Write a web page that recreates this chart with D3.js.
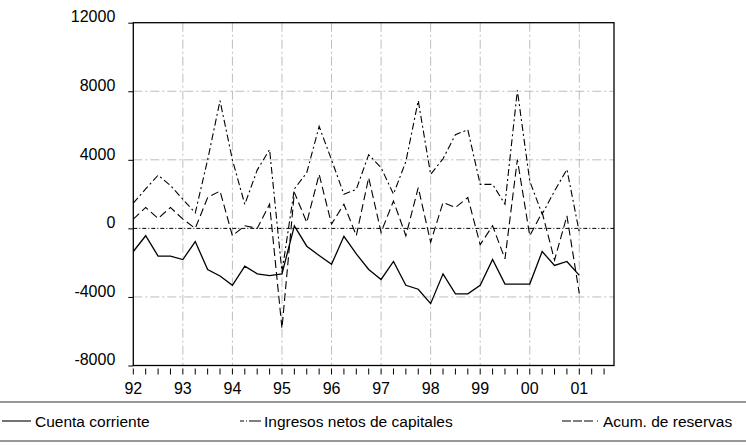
<!DOCTYPE html>
<html>
<head>
<meta charset="utf-8">
<script src="https://cdn.jsdelivr.net/npm/d3@7"></script>
<style>
  body { margin: 0; background: #fff; }
  svg { display: block; }
  text { font-family: "Liberation Sans", Arial, Helvetica, sans-serif; fill: #000; }
</style>
</head>
<body>
<svg id="chart" width="746" height="445"></svg>
<script>
// Quarterly observations, 1992Q1 – 2001Q1
const quarters = [
  "1992Q1","1992Q2","1992Q3","1992Q4","1993Q1","1993Q2","1993Q3","1993Q4",
  "1994Q1","1994Q2","1994Q3","1994Q4","1995Q1","1995Q2","1995Q3","1995Q4",
  "1996Q1","1996Q2","1996Q3","1996Q4","1997Q1","1997Q2","1997Q3","1997Q4",
  "1998Q1","1998Q2","1998Q3","1998Q4","1999Q1","1999Q2","1999Q3","1999Q4",
  "2000Q1","2000Q2","2000Q3","2000Q4","2001Q1"
];

const cuentaCorriente = [
  -1350, -430, -1620, -1620, -1820, -770, -2400, -2780,
  -3320, -2200, -2650, -2760, -2650, 150, -1040, -1580,
  -2100, -460, -1490, -2400, -2980, -1930, -3320, -3550,
  -4390, -2650, -3820, -3820, -3320, -1820, -3250, -3250,
  -3250, -1350, -2160, -1930, -2740
];

const ingresosCapitales = [
  1470, 2300, 3100, 2500, 1700, 900, 4000, 7450,
  4000, 1400, 3400, 4600, -2550, 2300, 3250, 5950,
  4000, 1990, 2280, 4300, 3540, 2000, 3900, 7450,
  3150, 4060, 5470, 5760, 2570, 2570, 1410, 8050,
  2760, 830, 2180, 3440, -230
];

const acumReservas = [
  540, 1220, 580, 1220, 540, 0, 1800, 2180,
  -430, 150, 0, 1410, -5830, 2100, 350, 3150,
  250, 1410, -430, 2960, -230, 1600, -430, 2380,
  -810, 1510, 1220, 1800, -950, 150, -1780, 4020,
  -430, 930, -1850, 730, -3810
];

const yearLabels = ["92","93","94","95","96","97","98","99","00","01"];
const yTickValues = [-8000, -4000, 0, 4000, 8000, 12000];

const seriesNames = ["Cuenta corriente", "Ingresos netos de capitales", "Acum. de reservas"];

// ---- layout ----
const svg = d3.select("#chart");
const plot = { left: 133.3, right: 614, top: 22.7, bottom: 365.5 };

const x = d3.scaleLinear().domain([0, 38.8]).range([plot.left, plot.right]);
const y = d3.scaleLinear().domain([-8000, 12000]).range([plot.bottom, plot.top]);

const gridColor = "#bdbdbd";

// horizontal grid lines (zero line drawn separately in black)
svg.append("g").selectAll("line")
  .data(yTickValues.filter(v => v !== 0 && v !== -8000 && v !== 12000))
  .join("line")
  .attr("x1", plot.left).attr("x2", plot.right)
  .attr("y1", d => y(d)).attr("y2", d => y(d))
  .attr("stroke", gridColor).attr("stroke-width", 1)
  .attr("stroke-dasharray", "9,3,2,3");

// vertical grid lines at the start of each year
svg.append("g").selectAll("line")
  .data(yearLabels.slice(1).map((_, i) => (i + 1) * 4))
  .join("line")
  .attr("x1", d => x(d)).attr("x2", d => x(d))
  .attr("y1", plot.top).attr("y2", plot.bottom)
  .attr("stroke", gridColor).attr("stroke-width", 1)
  .attr("stroke-dasharray", "9,3,2,3");

// zero line
svg.append("line")
  .attr("x1", plot.left).attr("x2", plot.right)
  .attr("y1", y(0)).attr("y2", y(0))
  .attr("stroke", "#000").attr("stroke-width", 1)
  .attr("stroke-dasharray", "4,2,1,2");

// series
const lineGen = d3.line().x((d, i) => x(i)).y(d => y(d));
const series = [
  { values: cuentaCorriente, dash: null, width: 1.3 },
  { values: ingresosCapitales, dash: "7,3,2,3", width: 1.1 },
  { values: acumReservas, dash: "8,4", width: 1.1 }
];
svg.append("g").selectAll("path")
  .data(series)
  .join("path")
  .attr("d", d => lineGen(d.values))
  .attr("fill", "none")
  .attr("stroke", "#000")
  .attr("stroke-width", d => d.width)
  .attr("stroke-linejoin", "miter")
  .attr("stroke-dasharray", d => d.dash);

// frame
svg.append("rect")
  .attr("x", plot.left).attr("y", plot.top)
  .attr("width", plot.right - plot.left).attr("height", plot.bottom - plot.top)
  .attr("fill", "none").attr("stroke", "#000").attr("stroke-width", 1.3);

// left axis: ticks and labels (plain hyphen for negatives)
const yAxis = d3.axisLeft(y).tickValues(yTickValues).tickSize(5).tickPadding(18)
  .tickFormat(d => String(d));
const gy = svg.append("g").attr("transform", `translate(${plot.left},0)`).call(yAxis);
gy.select(".domain").remove();
gy.selectAll(".tick line").attr("stroke", "#000");
gy.selectAll(".tick text")
  .attr("font-size", 16)
  .attr("font-family", "'Liberation Sans', Arial, sans-serif")
  .attr("x", -18).attr("dy", "-0.05em");

// bottom axis: quarterly ticks and year labels
const qTicks = d3.range(0, 39);
svg.append("g").selectAll("line")
  .data(qTicks)
  .join("line")
  .attr("x1", d => x(d)).attr("x2", d => x(d))
  .attr("y1", plot.bottom + 3).attr("y2", plot.bottom + 9)
  .attr("stroke", "#000").attr("stroke-width", 1);

svg.append("g").selectAll("text")
  .data(yearLabels)
  .join("text")
  .attr("x", (d, i) => x(i * 4))
  .attr("y", plot.bottom + 28)
  .attr("text-anchor", "middle")
  .attr("font-size", 16)
  .text(d => d);

// legend
const legendY = 421;
svg.append("line").attr("x1", 0).attr("x2", 746).attr("y1", 402).attr("y2", 402)
  .attr("stroke", "#333").attr("stroke-width", 1.2);
svg.append("line").attr("x1", 0).attr("x2", 746).attr("y1", 441).attr("y2", 441)
  .attr("stroke", "#333").attr("stroke-width", 1.2);

const legendItems = [
  { name: seriesNames[0], x0: 2, x1: 31, tx: 35, dash: null },
  { name: seriesNames[1], x0: 240, x1: 261, tx: 264, dash: "4,2,1,2,15,3" },
  { name: seriesNames[2], x0: 562, x1: 599, tx: 603, dash: "9,2,9,2,9,4,1,4" }
];
const lg = svg.append("g").selectAll("g").data(legendItems).join("g");
lg.append("line")
  .attr("x1", d => d.x0).attr("x2", d => d.x1)
  .attr("y1", legendY).attr("y2", legendY)
  .attr("stroke", "#000").attr("stroke-width", 1.1)
  .attr("stroke-dasharray", d => d.dash);
lg.append("text")
  .attr("x", d => d.tx).attr("y", legendY + 6)
  .attr("font-size", 15.5)
  .text(d => d.name);
</script>
</body>
</html>
